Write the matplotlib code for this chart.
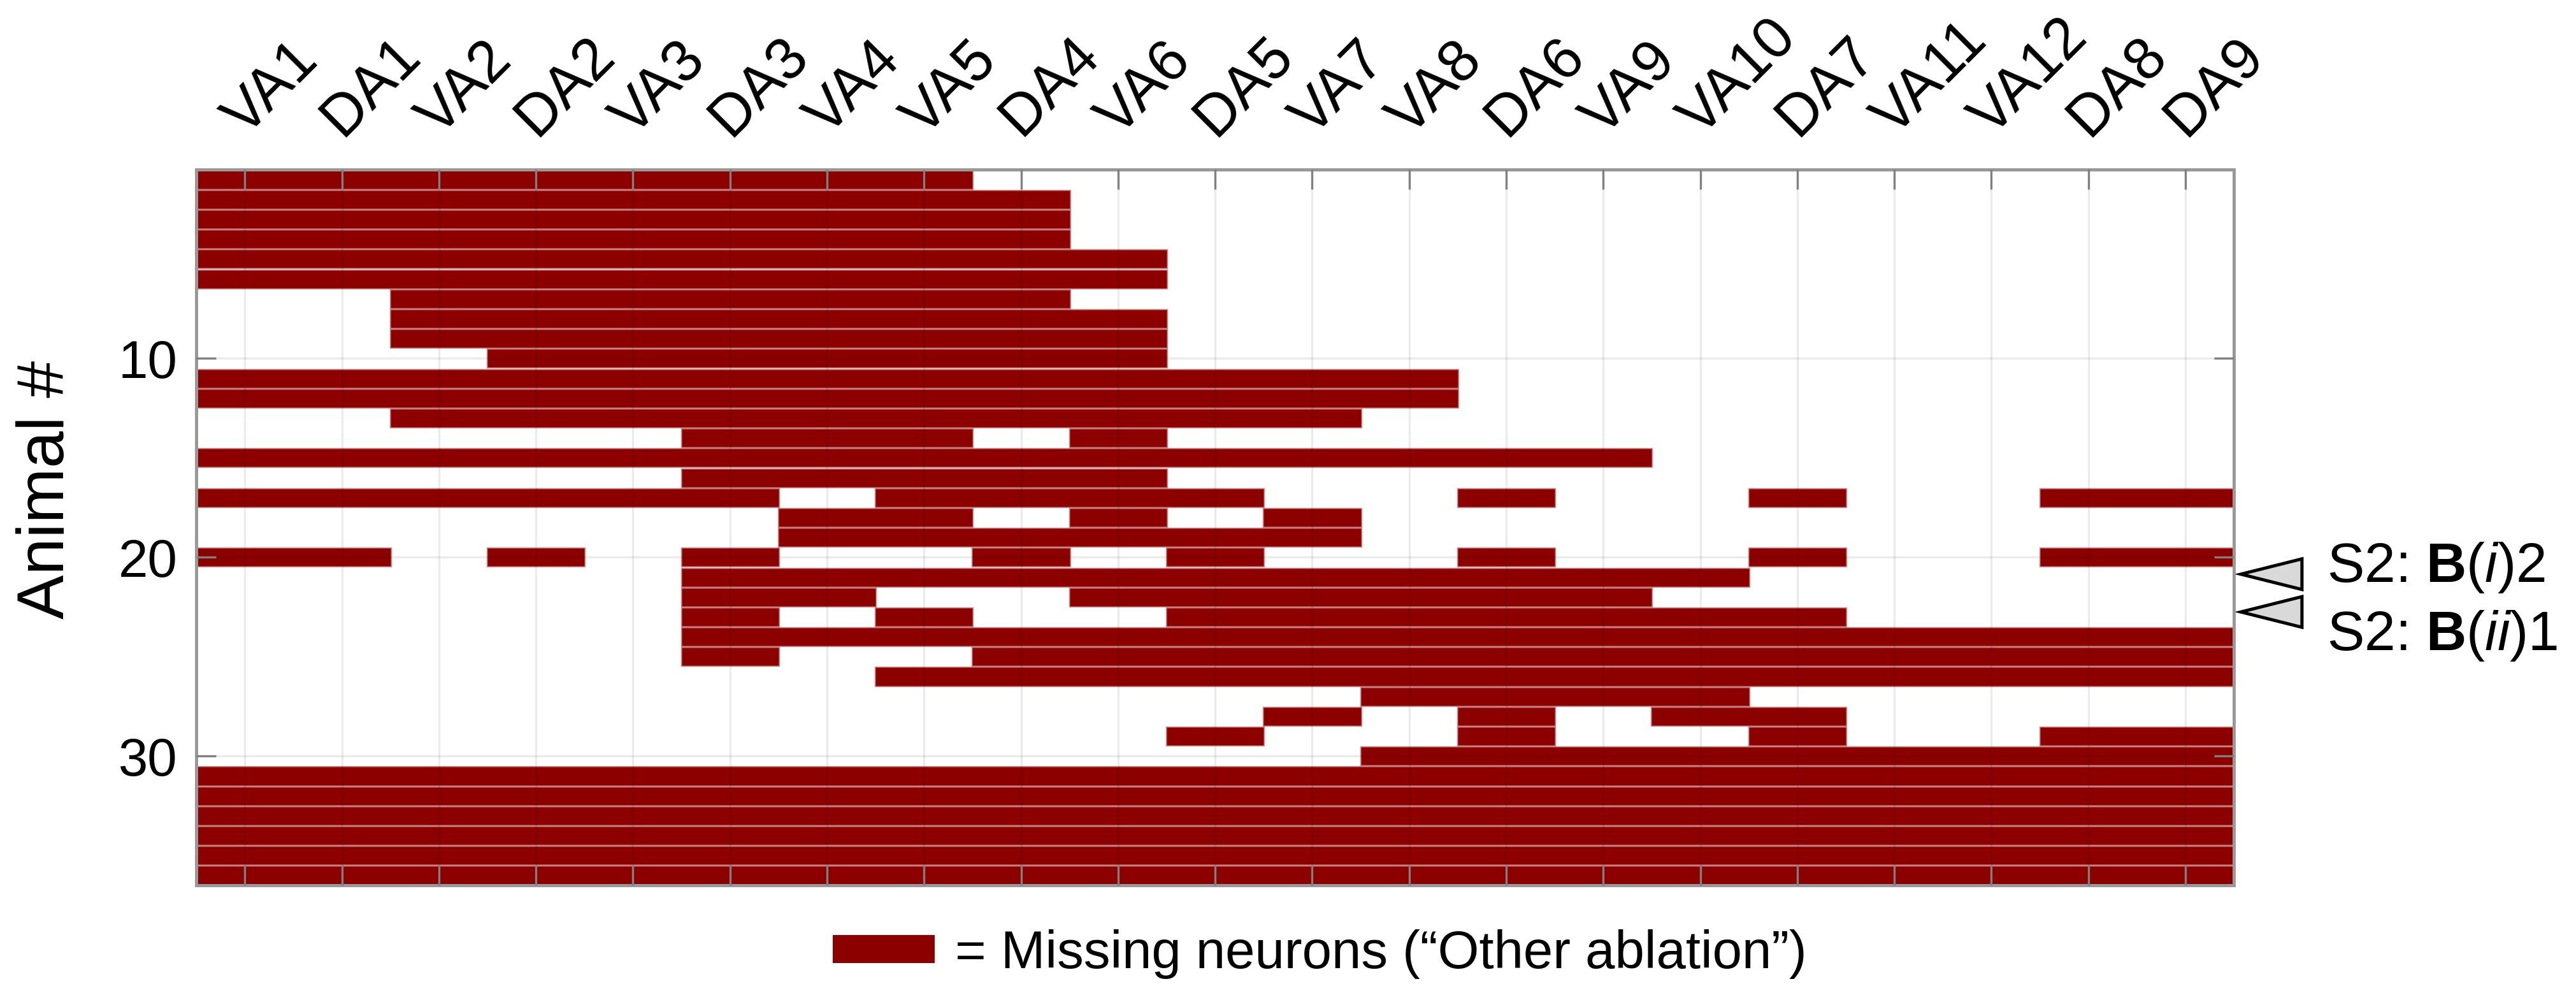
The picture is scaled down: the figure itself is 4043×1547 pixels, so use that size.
import numpy as np
import matplotlib
matplotlib.use('Agg')
import matplotlib.pyplot as plt
import matplotlib.transforms as mtransforms
from matplotlib.patches import Patch, Polygon

plt.rcParams['font.family'] = ['Liberation Sans', 'DejaVu Sans']
plt.rcParams['mathtext.fontset'] = 'custom'
plt.rcParams['mathtext.rm'] = 'Liberation Sans'
plt.rcParams['mathtext.it'] = 'Liberation Sans:italic'
plt.rcParams['mathtext.bf'] = 'Liberation Sans:bold'

# --- data ---
neurons = ['VA1', 'DA1', 'VA2', 'DA2', 'VA3', 'DA3', 'VA4', 'VA5', 'DA4', 'VA6', 'DA5',
           'VA7', 'VA8', 'DA6', 'VA9', 'VA10', 'DA7', 'VA11', 'VA12', 'DA8', 'DA9']

# one string per animal, one char per neuron: 1 = missing
missing = [
    '111111110000000000000',
    '111111111000000000000',
    '111111111000000000000',
    '111111111000000000000',
    '111111111100000000000',
    '111111111100000000000',
    '001111111000000000000',
    '001111111100000000000',
    '001111111100000000000',
    '000111111100000000000',
    '111111111111100000000',
    '111111111111100000000',
    '001111111111000000000',
    '000001110100000000000',
    '111111111111111000000',
    '000001111100000000000',
    '111111011110010010011',
    '000000110101000000000',
    '000000111111000000000',
    '110101001010010010011',
    '000001111111111100000',
    '000001100111111000000',
    '000001010011111110000',
    '000001111111111111111',
    '000001001111111111111',
    '000000011111111111111',
    '000000000000111100000',
    '000000000001010110000',
    '000000000010010010011',
    '000000000000111111111',
    '111111111111111111111',
    '111111111111111111111',
    '111111111111111111111',
    '111111111111111111111',
    '111111111111111111111',
    '111111111111111111111',
]
animals = np.arange(1, len(missing) + 1)
y_ticks = [10, 20, 30]

flag_y = [20.85, 22.75]
flag_text_y = [21.24, 24.68]
flag_labels = [r'S2: $\mathbf{B}(\mathit{i})$2', r'S2: $\mathbf{B}(\mathit{ii})$1']

legend_label = '= Missing neurons (\u201cOther ablation\u201d)'

# --- plot ---
bar_color = '#8c0000'
edge_color = (0.55, 0.0, 0.0, 0.45)

fig = plt.figure(figsize=(4043 / 300, 1547 / 300), dpi=300)
ax = fig.add_axes([0.0762, 0.1021, 0.7910, 0.7259])

for animal, row in zip(animals, missing):
    cells = [c == '1' for c in row]
    j = 0
    while j < len(cells):
        if cells[j]:
            start = j
            while j < len(cells) and cells[j]:
                j += 1
            ax.barh(animal, j - start, left=start + 0.5, height=0.9,
                    color=bar_color, edgecolor=edge_color, linewidth=0.8)
        else:
            j += 1

ax.set_xlim(0.5, len(neurons) + 0.5)
ax.set_ylim(len(missing) + 0.5, 0.5)

ax.set_xticks(np.arange(1, len(neurons) + 1))
ax.set_xticklabels(neurons)
ax.set_yticks(y_ticks)

ax.tick_params(axis='x', top=True, bottom=True, labeltop=True, labelbottom=False,
               direction='in', length=7.5, width=0.8, color='0.5',
               labelsize=22, pad=12)
for t in ax.xaxis.get_major_ticks():
    t.label2.set_rotation(45)
    t.label2.set_rotation_mode('anchor')
    t.label2.set_horizontalalignment('left')
    t.label2.set_verticalalignment('baseline')

ax.tick_params(axis='y', left=True, right=True, direction='in', length=7.5,
               width=0.8, color='0.5', labelsize=20, pad=7)

ax.set_axisbelow(False)
ax.grid(True, color='k', alpha=0.08, linewidth=0.8)

for s in ax.spines.values():
    s.set_color('0.6')
    s.set_linewidth(1.2)

fig.text(0.0183, 0.503, 'Animal #', fontsize=25, rotation=90,
         ha='center', va='center')

# arrowheads on the right
blend = mtransforms.blended_transform_factory(ax.transAxes, ax.transData)
for yf, yt, lab in zip(flag_y, flag_text_y, flag_labels):
    tri = Polygon([(1.0034, yf), (1.0334, yf - 0.77), (1.0334, yf + 0.77)],
                  closed=True, facecolor='#d9d9d9', edgecolor='black',
                  linewidth=1.2, transform=blend, clip_on=False)
    ax.add_patch(tri)
    ax.text(1.0457, yt, lab, transform=blend, fontsize=21,
            ha='left', va='baseline')

fig.legend(handles=[Patch(facecolor=bar_color)], labels=[legend_label],
           loc='center left', bbox_to_anchor=(0.3233, 0.0323), frameon=False,
           fontsize=20, handlelength=1.92, handleheight=0.44,
           handletextpad=0.38, borderpad=0, borderaxespad=0)

fig.savefig('out.png', dpi=300)
